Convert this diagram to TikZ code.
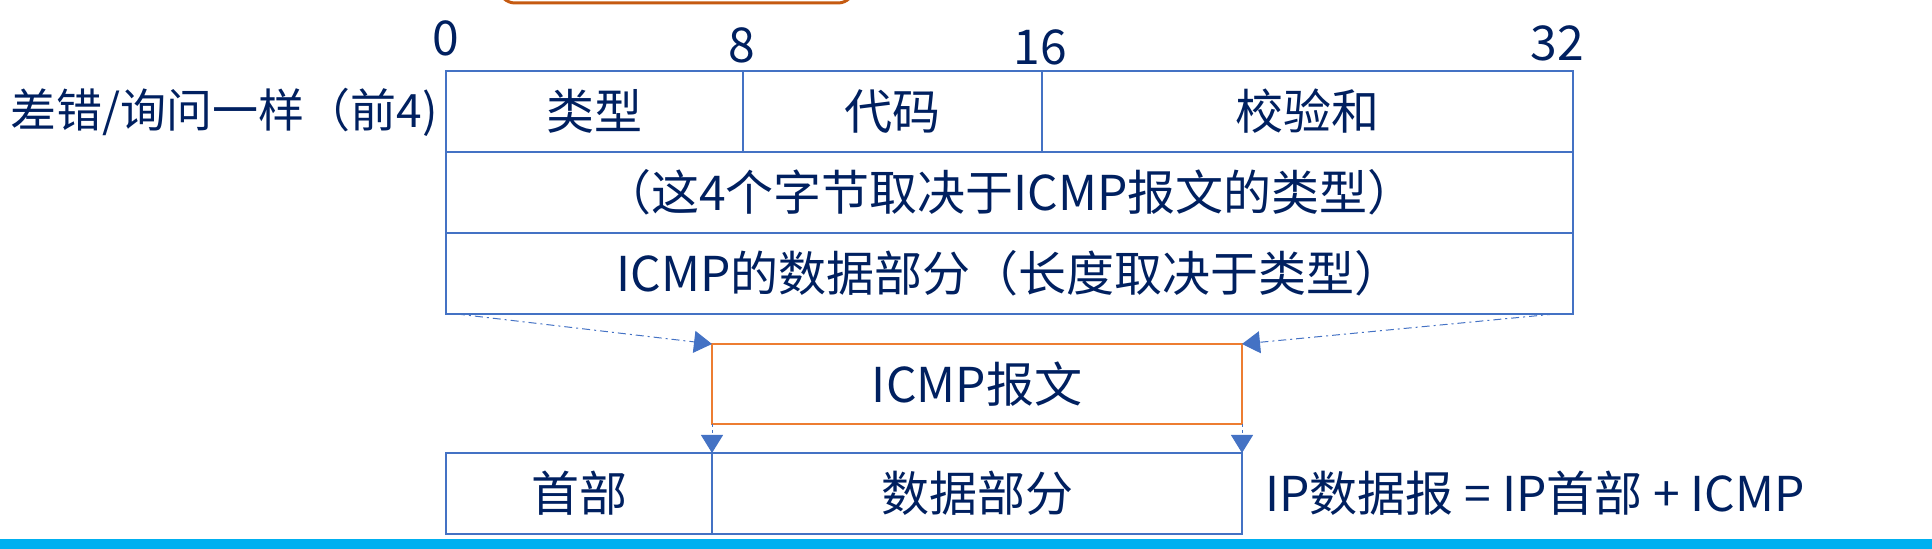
\documentclass[tikz,border=0pt]{standalone}
\usepackage{fontspec}
\setmainfont{Noto Sans CJK SC}
\usetikzlibrary{arrows.meta,positioning}
\definecolor{fieldblue}{RGB}{68,114,196}
\definecolor{textnavy}{RGB}{0,32,96}
\definecolor{msgorange}{RGB}{237,125,49}
\definecolor{topdark}{RGB}{197,90,17}
\definecolor{barcyan}{RGB}{0,176,240}

\begin{document}
\begin{tikzpicture}[x=0.5pt, y=-0.5pt,
    field/.style={rectangle, draw=fieldblue, line width=1.25pt, minimum height=40.5pt,
        inner sep=0pt, outer sep=0pt, text=textnavy, font=\fontsize{24}{27}\selectfont},
    msg/.style={field, draw=msgorange, minimum height=40pt},
    bit/.style={inner sep=0pt, text=textnavy, font=\fontsize{24}{27}\selectfont},
    link/.style={-{Triangle[length=9pt, width=11pt]}, draw=fieldblue, line width=0.5pt,
        dash pattern=on 4pt off 2pt on 1pt off 2pt},
    drop/.style={-{Triangle[length=9pt, width=11pt]}, draw=fieldblue, line width=0.5pt,
        dash pattern=on 1.5pt off 1.5pt}]
\useasboundingbox (0,0) rectangle (1932,549);

% cut-off box at the top edge
\begin{scope}
  \clip (0,0) rectangle (1932,549);
  \draw[topdark, line width=1.5pt, rounded corners=8pt] (499,-40) rectangle (854,3);
\end{scope}

% ICMP header and data
\node[field, minimum width=148.5pt, anchor=north west] (type) at (446,71) {类型};
\node[field, minimum width=149.5pt, right=0pt of type] (code) {代码};
\node[field, minimum width=265.5pt, right=0pt of code] (csum) {校验和};
\node[field, minimum width=563.5pt, below=0pt of type.south west, anchor=north west] (rest)
    {（这4个字节取决于ICMP报文的类型）};
\node[field, minimum width=563.5pt, below=0pt of rest.south west, anchor=north west] (body)
    {ICMP的数据部分（长度取决于类型）};

% bit positions
\node[bit] (b0)  at (446,38)  {0};
\node[bit] (b8)  at (742,45)  {8};
\node[bit] (b16) at (1040,47) {16};
\node[bit] (b32) at (1557,43) {32};
\node[bit, anchor=east, font=\fontsize{23}{26}\selectfont] (same) at (438,112)
    {差错/询问一样（前4)};

% ICMP message
\node[msg, minimum width=265pt, anchor=north west] (icmp) at (712,344) {ICMP报文};

% IP datagram
\node[field, minimum width=133pt, anchor=north west] (iphdr) at (446,453) {首部};
\node[field, minimum width=265pt, right=0pt of iphdr] (ipdata) {数据部分};
\node[bit, anchor=west] (eq) at (1265,493) {IP数据报 = IP首部 + ICMP};

\draw[link] ([xshift=5.5pt]body.south west) -- (icmp.north west);
\draw[link] ([xshift=-9pt]body.south east) -- (icmp.north east);
\draw[drop] (icmp.south west) -- (ipdata.north west);
\draw[drop] (icmp.south east) -- (ipdata.north east);

\fill[barcyan] (0,539) rectangle (1932,549);
\end{tikzpicture}
\end{document}
